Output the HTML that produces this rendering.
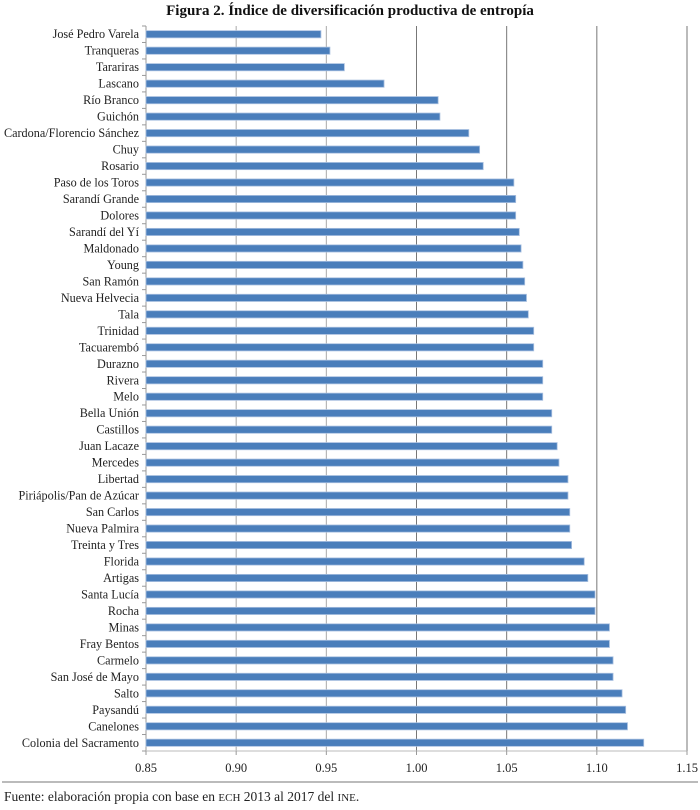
<!DOCTYPE html>
<html><head><meta charset="utf-8"><style>
body{margin:0;background:#fff;width:700px;height:805px;overflow:hidden;font-family:"Liberation Serif",serif;}
</style></head><body>
<svg id="chart" width="700" height="805" xmlns="http://www.w3.org/2000/svg" font-family="Liberation Serif, serif">
<text x="350" y="15" text-anchor="middle" font-size="15" font-weight="bold" fill="#111">Figura 2. Índice de diversificación productiva de entropía</text>
<g id="grid"></g><g id="bars"></g><g id="labels"></g><g id="xt"></g>
<line x1="2" y1="782" x2="698" y2="782" stroke="#777" stroke-width="1"/>
<text x="4" y="801" font-size="13.5" fill="#222">Fuente: elaboración propia con base en <tspan font-size="11">ECH</tspan> 2013 al 2017 del <tspan font-size="11">INE</tspan>.</text>
</svg>
<script>
const categories=["José Pedro Varela","Tranqueras","Tarariras","Lascano","Río Branco","Guichón","Cardona/Florencio Sánchez","Chuy","Rosario","Paso de los Toros","Sarandí Grande","Dolores","Sarandí del Yí","Maldonado","Young","San Ramón","Nueva Helvecia","Tala","Trinidad","Tacuarembó","Durazno","Rivera","Melo","Bella Unión","Castillos","Juan Lacaze","Mercedes","Libertad","Piriápolis/Pan de Azúcar","San Carlos","Nueva Palmira","Treinta y Tres","Florida","Artigas","Santa Lucía","Rocha","Minas","Fray Bentos","Carmelo","San José de Mayo","Salto","Paysandú","Canelones","Colonia del Sacramento"];
const values=[0.947,0.952,0.960,0.982,1.012,1.013,1.029,1.035,1.037,1.054,1.055,1.055,1.057,1.058,1.059,1.060,1.061,1.062,1.065,1.065,1.070,1.070,1.070,1.075,1.075,1.078,1.079,1.084,1.084,1.085,1.085,1.086,1.093,1.095,1.099,1.099,1.107,1.107,1.109,1.109,1.114,1.116,1.117,1.126];
const ticks=[0.85,0.90,0.95,1.00,1.05,1.10,1.15];
const NS="http://www.w3.org/2000/svg";
const L=146,R=687,T=26,B=751;
const xs=v=>L+(v-0.85)/(0.30)*(R-L);
const band=(B-T)/categories.length;
const yc=i=>T+band*(i+0.5);
function mk(tag,at,p){const e=document.createElementNS(NS,tag);for(const k in at)e.setAttribute(k,at[k]);p.appendChild(e);return e;}
const g=document.getElementById('grid'),b=document.getElementById('bars'),lb=document.getElementById('labels'),xt=document.getElementById('xt');
ticks.forEach((t,i)=>{
 if(i>0){const l=mk('line',{x1:xs(t),x2:xs(t),y1:T,y2:B,stroke:(t>=1)?'#777':'#aaa','stroke-width':1},g);
 
 }
 const tx=mk('text',{x:xs(t),y:772,'text-anchor':'middle','font-size':12.5,fill:'#222'},xt);
 tx.textContent=t.toFixed(2);
 
 
 const tk=mk('line',{x1:xs(t),x2:xs(t),y1:B,y2:B+4,stroke:'#999'},xt);
 
 
});
const ax=mk('line',{x1:L,x2:L,y1:T,y2:B,stroke:'#999'},g);


const axb=mk('line',{x1:L,x2:R,y1:B,y2:B,stroke:'#bbb'},g);


for(let i=0;i<=categories.length;i++){const tk=mk('line',{x1:L-4,x2:L,y1:T+band*i,y2:T+band*i,stroke:'#999'},g);
 
 }
categories.forEach((c,i)=>{
 const r=mk('rect',{x:L,y:yc(i)-3.6,width:xs(values[i])-L,height:7.2,fill:'#4a7ebb',stroke:'#a9c0e0','stroke-width':0.8},b);
 
 
 const t=mk('text',{x:139,y:yc(i)+4,'text-anchor':'end','font-size':12.2,fill:'#222'},lb);
 t.textContent=c;
 
 
});
</script>
</body></html>
